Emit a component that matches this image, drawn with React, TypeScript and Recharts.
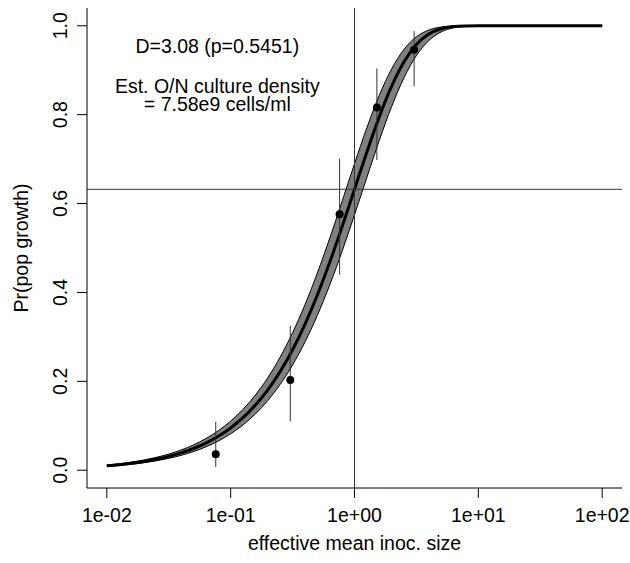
import React from 'react';
import {
  ComposedChart,
  Area,
  Line,
  Scatter,
  XAxis,
  YAxis,
  ReferenceLine,
  ReferenceDot,
  ErrorBar,
} from 'recharts';

// Fitted curve, log-spaced inoculum sizes
const curveX = [0.01, 0.01259, 0.01585, 0.01995, 0.02512, 0.03162, 0.03981, 0.05012, 0.0631, 0.07943,
  0.1, 0.1259, 0.1585, 0.1995, 0.2512, 0.3162, 0.3981, 0.5012, 0.631, 0.7943,
  1, 1.259, 1.585, 1.995, 2.512, 3.162, 3.981, 5.012, 6.31, 7.943, 10, 20, 50, 100];
const curveY = [0.00995, 0.01251, 0.01572, 0.01976, 0.02481, 0.03113, 0.03903, 0.04888, 0.06115, 0.07636,
  0.09516, 0.11828, 0.14657, 0.18089, 0.22215, 0.27111, 0.32841, 0.39419, 0.46789, 0.54812,
  0.63212, 0.71603, 0.79503, 0.86402, 0.91887, 0.95768, 0.98133, 0.99334, 0.99818, 0.99964, 0.99995, 1, 1, 1];
const bandLow = [0.00851, 0.0107, 0.01345, 0.01691, 0.02124, 0.02667, 0.03345, 0.04193, 0.0525, 0.06564,
  0.08192, 0.10201, 0.12668, 0.15679, 0.19322, 0.23684, 0.28838, 0.34842, 0.41682, 0.4928,
  0.57459, 0.65904, 0.74194, 0.81831, 0.88316, 0.93299, 0.96671, 0.98621, 0.99545, 0.99887, 0.99981, 1, 1, 1];
const bandHigh = [0.01163, 0.01462, 0.01837, 0.02307, 0.02896, 0.03632, 0.04551, 0.05695, 0.07116, 0.08875,
  0.11041, 0.13696, 0.16925, 0.2082, 0.25464, 0.30926, 0.37235, 0.44368, 0.52203, 0.60522,
  0.68963, 0.77073, 0.84346, 0.90315, 0.94708, 0.97527, 0.99051, 0.99716, 0.99938, 0.99991, 0.99999, 1, 1, 1];

// Observed points with intervals
const pointX = [0.0758, 0.303, 0.758, 1.516, 3.03];
const pointY = [0.036, 0.203, 0.576, 0.816, 0.946];
const pointLow = [0.007, 0.11, 0.44, 0.698, 0.864];
const pointHigh = [0.109, 0.325, 0.701, 0.904, 0.988];

// Axes
const xTicks = [0.01, 0.1, 1, 10, 100];
const xTickLabels = ['1e-02', '1e-01', '1e+00', '1e+01', '1e+02'];
const yTicks = [0, 0.2, 0.4, 0.6, 0.8, 1.0];
const yTickLabels = ['0.0', '0.2', '0.4', '0.6', '0.8', '1.0'];
const xDomain = [0.0069183, 144.54];
const yDomain = [-0.04, 1.04];

const refX = 1;
const refY = 0.6321;

const annotations = [
  { x: 0.078, y: 0.938, text: 'D=3.08 (p=0.5451)' },
  { x: 0.078, y: 0.849, text: 'Est. O/N culture density' },
  { x: 0.078, y: 0.809, text: '= 7.58e9 cells/ml' },
];

const curveData = curveX.map((x, i) => ({ x, y: curveY[i], band: [bandLow[i], bandHigh[i]] }));
const pointData = pointX.map((x, i) => ({
  x,
  y: pointY[i],
  err: [pointY[i] - pointLow[i], pointHigh[i] - pointY[i]],
}));

const FONT = '"Liberation Sans", Arial, Helvetica, sans-serif';
const FS = 19.5;

const XTick = (props: any) => {
  const { x, y, payload } = props;
  const idx = xTicks.indexOf(payload.value);
  return (
    <text x={x} y={y + 22} textAnchor="middle" fontFamily={FONT} fontSize={FS} fill="#000">
      {idx >= 0 ? xTickLabels[idx] : String(payload.value)}
    </text>
  );
};

const YTick = (props: any) => {
  const { x, y, payload } = props;
  const idx = yTicks.indexOf(payload.value);
  return (
    <text
      transform={`translate(${x - 8.5},${y}) rotate(-90)`}
      x={0}
      y={0}
      textAnchor="middle"
      fontFamily={FONT}
      fontSize={FS}
      fill="#000"
    >
      {idx >= 0 ? yTickLabels[idx] : String(payload.value)}
    </text>
  );
};

export default function App() {
  return (
    <div style={{ position: 'absolute', left: 0, top: 0, background: '#fff' }}>
      <ComposedChart
        width={630}
        height={563}
        data={curveData}
        margin={{ top: 8, right: 8, left: 0, bottom: 0 }}
      >
        <XAxis
          dataKey="x"
          type="number"
          scale="log"
          domain={xDomain}
          allowDataOverflow
          ticks={xTicks}
          tick={<XTick />}
          tickSize={10}
          tickMargin={2}
          height={75}
          stroke="#000"
          axisLine={{ stroke: '#000' }}
          tickLine={{ stroke: '#000' }}
          interval={0}
          label={{
            content: (p: any) => {
              const vb = p.viewBox || { x: 87, y: 488, width: 535 };
              return (
                <text x={vb.x + vb.width / 2} y={550} textAnchor="middle" fontFamily={FONT} fontSize={FS} fill="#000">
                  effective mean inoc. size
                </text>
              );
            },
          }}
        />
        <XAxis
          xAxisId="top"
          orientation="top"
          dataKey="x"
          type="number"
          scale="log"
          domain={xDomain}
          allowDataOverflow
          height={0}
          tick={false}
          tickLine={false}
          axisLine={{ stroke: '#000' }}
        />
        <YAxis
          type="number"
          domain={yDomain}
          allowDataOverflow
          ticks={yTicks}
          tick={<YTick />}
          tickSize={10}
          tickMargin={2}
          width={87}
          interval={0}
          axisLine={{ stroke: '#000' }}
          tickLine={{ stroke: '#000' }}
          label={{
            content: (p: any) => {
              const vb = p.viewBox || { y: 8, height: 480 };
              return (
                <text
                  transform={`translate(27.5,${vb.y + vb.height / 2}) rotate(-90)`}
                  x={0}
                  y={0}
                  textAnchor="middle"
                  fontFamily={FONT}
                  fontSize={FS}
                  fill="#000"
                >
                  Pr(pop growth)
                </text>
              );
            },
          }}
        />
        <YAxis
          yAxisId="right"
          orientation="right"
          type="number"
          domain={yDomain}
          allowDataOverflow
          width={0}
          tick={false}
          tickLine={false}
          axisLine={{ stroke: '#000' }}
        />
        <Area
          dataKey="band"
          type="monotone"
          stroke="#000"
          strokeWidth={1}
          fill="#808080"
          fillOpacity={1}
          isAnimationActive={false}
          dot={false}
          activeDot={false}
        />
        <Line
          dataKey="y"
          type="monotone"
          stroke="#000"
          strokeWidth={3}
          dot={false}
          activeDot={false}
          isAnimationActive={false}
        />
        <ReferenceLine x={refX} stroke="#333" strokeWidth={1} />
        <ReferenceLine y={refY} stroke="#333" strokeWidth={1} />
        <Scatter
          data={pointData}
          dataKey="y"
          isAnimationActive={false}
          shape={(p: any) => <circle cx={p.cx} cy={p.cy} r={4} fill="#000" />}
        >
          <ErrorBar dataKey="err" direction="y" width={0} stroke="#333" strokeWidth={1} isAnimationActive={false} />
        </Scatter>
        {annotations.map((a, i) => (
          <ReferenceDot
            key={i}
            x={a.x}
            y={a.y}
            r={0}
            shape={(p: any) => (
              <text x={p.cx} y={p.cy} textAnchor="middle" fontFamily={FONT} fontSize={FS} fill="#000">
                {a.text}
              </text>
            )}
          />
        ))}
      </ComposedChart>
    </div>
  );
}
